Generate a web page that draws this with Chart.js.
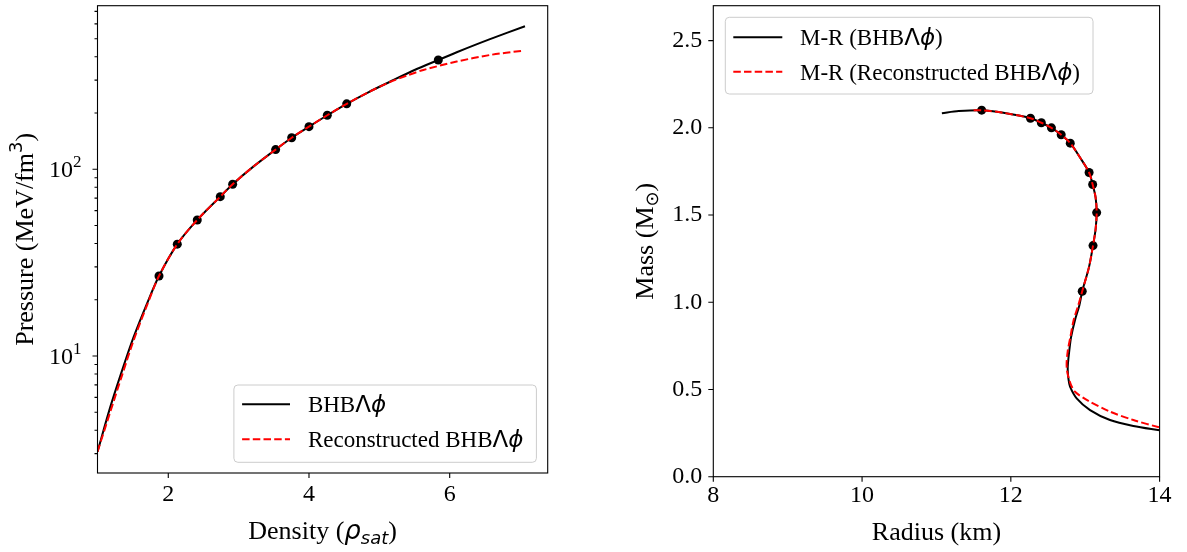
<!DOCTYPE html>
<html>
<head>
<meta charset="utf-8">
<script src="https://cdn.jsdelivr.net/npm/chart.js@4.4.0/dist/chart.umd.min.js"></script>
<style>
  html, body { margin: 0; padding: 0; background: #fff; }
  #wrap { position: relative; width: 1187px; height: 552px; }
  #eos { position: absolute; left: 0; top: 0; }
  #mr { position: absolute; left: 600px; top: 0; }
</style>
</head>
<body>
<div id="wrap">
  <canvas id="eos" width="580" height="552"></canvas>
  <canvas id="mr" width="587" height="552"></canvas>
</div>
<script>
// left panel: equation of state
const eosDensity  = [0.994, 1.172, 1.338, 1.503, 1.693, 1.868, 2.128, 2.412, 2.739, 2.915, 3.20, 3.526, 3.754, 4.00, 4.26, 4.536, 4.85, 5.15, 5.50, 5.838, 6.10, 6.573, 7.07];
const eosPressure = [3.07, 5.27, 8.24, 12.49, 18.9, 26.8, 39.7, 53.5, 71.3, 83.1, 102.6, 127.4, 147.5, 169, 194.5, 224, 259, 294, 340, 384.6, 423, 497, 583];
const recDensity  = [0.994, 1.172, 1.338, 1.503, 1.693, 1.868, 2.128, 2.412, 2.739, 2.915, 3.20, 3.526, 3.754, 4.00, 4.26, 4.536, 4.85, 5.15, 5.40, 5.625, 6.10, 6.573, 7.032];
const recPressure = [3.07, 4.97, 7.78, 12.0, 18.5, 26.8, 39.7, 53.5, 71.3, 83.1, 102.6, 127.4, 147.5, 169, 194.5, 224, 259, 293, 318, 340, 377, 409, 431];
const dotDensity  = [1.868, 2.128, 2.412, 2.739, 2.915, 3.526, 3.754, 4.00, 4.26, 4.536, 5.838];
const dotPressure = [26.8, 39.7, 53.5, 71.3, 83.1, 127.4, 147.5, 169, 194.5, 224, 384.6];
const densityTicks  = [2, 4, 6];
const pressureTicks = [10, 100];
const pressureLabels = ['1', '2'];   // exponents of 10

// right panel: mass-radius
const mrRadius = [11.073, 11.30, 11.608, 11.90, 12.264, 12.41, 12.546, 12.677, 12.799, 12.93, 13.052, 13.10, 13.14, 13.154, 13.14, 13.105, 13.05, 12.96, 12.92, 12.863, 12.81, 12.787, 12.768, 12.765, 12.775, 12.796, 12.885, 13.065, 13.333, 13.647, 14.0];
const mrMass   = [2.084, 2.096, 2.101, 2.086, 2.055, 2.029, 2.000, 1.960, 1.912, 1.830, 1.744, 1.675, 1.600, 1.514, 1.420, 1.325, 1.200, 1.063, 0.980, 0.899, 0.800, 0.727, 0.650, 0.612, 0.560, 0.516, 0.449, 0.382, 0.325, 0.291, 0.266];
const recRadius = [11.50, 11.608, 11.90, 12.264, 12.41, 12.546, 12.677, 12.799, 12.93, 13.052, 13.10, 13.14, 13.154, 13.14, 13.105, 13.05, 12.96, 12.905, 12.845, 12.80, 12.765, 12.75, 12.755, 12.773, 12.81, 12.863, 13.02, 13.333, 13.647, 14.0];
const recMass   = [2.100, 2.101, 2.086, 2.055, 2.029, 2.000, 1.960, 1.912, 1.830, 1.744, 1.675, 1.600, 1.514, 1.420, 1.325, 1.200, 1.063, 0.980, 0.899, 0.800, 0.720, 0.650, 0.610, 0.573, 0.525, 0.487, 0.440, 0.373, 0.325, 0.282];
const dotRadius = [11.608, 12.264, 12.41, 12.546, 12.677, 12.799, 13.052, 13.10, 13.154, 13.105, 12.96];
const dotMass   = [2.101, 2.055, 2.029, 2.000, 1.960, 1.912, 1.744, 1.675, 1.514, 1.325, 1.063];
const radiusTicks = [8, 10, 12, 14];
const massTicks   = [0, 0.5, 1.0, 1.5, 2.0, 2.5];

const SERIF = '"Liberation Serif", "Times New Roman", serif';
const SANS = '"DejaVu Sans", sans-serif';
const DASH = [7.5, 3.2];

const toXY = (xs, ys) => xs.map((x, i) => ({ x: x, y: ys[i] }));

// draw a row of text pieces with different fonts
function richText(ctx, segs, x, y, align) {
  let w = 0;
  segs.forEach(s => { ctx.font = s.f; w += ctx.measureText(s.t).width; });
  let cx = align === 'center' ? x - w / 2 : x;
  ctx.textBaseline = 'alphabetic';
  ctx.textAlign = 'left';
  segs.forEach(s => {
    ctx.font = s.f;
    ctx.fillText(s.t, cx, y + (s.dy || 0));
    cx += ctx.measureText(s.t).width;
  });
}

function roundRect(ctx, x0, y0, x1, y1, r) {
  ctx.beginPath();
  ctx.moveTo(x0 + r, y0);
  ctx.arcTo(x1, y0, x1, y1, r);
  ctx.arcTo(x1, y1, x0, y1, r);
  ctx.arcTo(x0, y1, x0, y0, r);
  ctx.arcTo(x0, y0, x1, y0, r);
  ctx.closePath();
}

// frame, ticks, axis titles and legend in matplotlib style
function makeDeco(cfg) {
  return {
    id: 'deco',
    afterDraw(chart) {
      const ctx = chart.ctx;
      const a = chart.chartArea;
      const xs = chart.scales.x, ys = chart.scales.y;
      ctx.save();
      ctx.fillStyle = '#000';
      ctx.strokeStyle = '#000';
      ctx.lineWidth = 1.1;
      ctx.setLineDash([]);
      ctx.strokeRect(a.left, a.top, a.right - a.left, a.bottom - a.top);

      ctx.beginPath();
      xs.ticks.forEach(t => {
        const p = xs.getPixelForValue(t.value);
        ctx.moveTo(p, a.bottom); ctx.lineTo(p, a.bottom + 5);
      });
      ys.ticks.forEach(t => {
        const p = ys.getPixelForValue(t.value);
        ctx.moveTo(a.left - 5, p); ctx.lineTo(a.left, p);
      });
      (cfg.minorY || []).forEach(v => {
        const p = ys.getPixelForValue(v);
        if (p >= a.top && p <= a.bottom) { ctx.moveTo(a.left - 3, p); ctx.lineTo(a.left, p); }
      });
      ctx.stroke();

      // power-of-ten labels
      (cfg.supLabels || []).forEach(l => {
        const p = ys.getPixelForValue(l.value);
        ctx.font = '24px ' + SERIF;
        const wb = ctx.measureText('10').width;
        ctx.font = '17px ' + SERIF;
        const we = ctx.measureText(l.exp).width;
        richText(ctx, [
          { t: '10', f: '24px ' + SERIF },
          { t: l.exp, f: '17px ' + SERIF, dy: -10 }
        ], a.left - 16 - wb - we, p + 8, 'left');
      });

      // axis titles
      richText(ctx, cfg.xTitle, (a.left + a.right) / 2, cfg.xTitleY, 'center');
      ctx.save();
      ctx.translate(cfg.yTitleX, (a.top + a.bottom) / 2);
      ctx.rotate(-Math.PI / 2);
      richText(ctx, cfg.yTitle, 0, 0, 'center');
      ctx.restore();

      // legend
      const L = cfg.legend;
      roundRect(ctx, L.box[0], L.box[1], L.box[2], L.box[3], 4);
      ctx.fillStyle = 'rgba(255,255,255,0.8)';
      ctx.fill();
      ctx.strokeStyle = '#cccccc';
      ctx.lineWidth = 1;
      ctx.stroke();
      L.rows.forEach(r => {
        ctx.beginPath();
        ctx.strokeStyle = r.color;
        ctx.lineWidth = 2;
        ctx.setLineDash(r.dash || []);
        ctx.moveTo(L.sx[0], r.y); ctx.lineTo(L.sx[1], r.y);
        ctx.stroke();
        ctx.setLineDash([]);
        ctx.fillStyle = '#000';
        richText(ctx, r.segs, L.tx, r.y + 8, 'left');
      });
      ctx.restore();
    }
  };
}

const tickFont = { family: SERIF, size: 24 };
const LEG = '23px ' + SERIF;
const nameSegs = (pre, post) => [
  { t: pre + 'BHB', f: LEG },
  { t: 'Λ', f: '23px ' + SANS },
  { t: 'ϕ', f: 'italic 23px ' + SANS },
  { t: post, f: LEG }
];

// minor ticks of the log axis
const minorPressure = [];
[1, 10, 100].forEach(d => { for (let k = 2; k <= 9; k++) minorPressure.push(k * d); });

const lineSet = (label, data, color, dash, order) => ({
  label: label, data: data, showLine: true, borderColor: color, borderWidth: 2,
  borderDash: dash, pointRadius: 0, tension: 0.3, fill: false, order: order
});
const dotSet = (data) => ({
  label: 'points', data: data, showLine: false, pointRadius: 4.5,
  pointBackgroundColor: '#000', pointBorderWidth: 0, order: 2
});

// keep the plot box where it is, whatever the tick labels need
const noPad = s => { s.paddingTop = 0; s.paddingBottom = 0; s.paddingLeft = 0; s.paddingRight = 0; };

const common = {
  responsive: false,
  animation: false,
  events: [],
  plugins: { legend: { display: false }, tooltip: { enabled: false } }
};

new Chart(document.getElementById('eos').getContext('2d'), {
  type: 'scatter',
  data: {
    datasets: [
      lineSet('Reconstructed BHBΛϕ', toXY(recDensity, recPressure), '#ff0000', DASH, 0),
      lineSet('BHBΛϕ', toXY(eosDensity, eosPressure), '#000000', [], 1),
      dotSet(toXY(dotDensity, dotPressure))
    ]
  },
  options: Object.assign({}, common, {
    layout: { padding: { left: 0, right: 32.3, top: 5.7, bottom: 0 } },
    scales: {
      x: {
        type: 'linear', min: 0.994, max: 7.393,
        afterBuildTicks: s => { s.ticks = densityTicks.map(v => ({ value: v })); },
        afterFit: s => { s.height = 79; noPad(s); },
        grid: { display: false, drawTicks: false }, border: { display: false },
        ticks: { font: tickFont, color: '#000', padding: 7, maxRotation: 0 }
      },
      y: {
        type: 'logarithmic', min: 2.362, max: 751,
        afterBuildTicks: s => { s.ticks = pressureTicks.map(v => ({ value: v })); },
        afterFit: s => { s.width = 97.5; noPad(s); },
        grid: { display: false, drawTicks: false }, border: { display: false },
        ticks: { display: false }
      }
    }
  }),
  plugins: [makeDeco({
    minorY: minorPressure,
    supLabels: pressureTicks.map((v, i) => ({ value: v, exp: pressureLabels[i] })),
    xTitle: [
      { t: 'Density (', f: '26px ' + SERIF },
      { t: 'ρ', f: 'italic 26px ' + SANS },
      { t: 'sat', f: 'italic 18px ' + SANS, dy: 5 },
      { t: ')', f: '26px ' + SERIF }
    ],
    xTitleY: 539,
    yTitle: [
      { t: 'Pressure (MeV/fm', f: '26px ' + SERIF },
      { t: '3', f: '18px ' + SANS, dy: -11 },
      { t: ')', f: '26px ' + SERIF }
    ],
    yTitleX: 33,
    legend: {
      box: [233.9, 385, 536.4, 462.3], sx: [242.1, 290], tx: 307.9,
      rows: [
        { y: 404.3, color: '#000', segs: nameSegs('', '') },
        { y: 439.3, color: '#ff0000', dash: DASH, segs: nameSegs('Reconstructed ', '') }
      ]
    }
  })]
});

new Chart(document.getElementById('mr').getContext('2d'), {
  type: 'scatter',
  data: {
    datasets: [
      lineSet('M-R (Reconstructed BHBΛϕ)', toXY(recRadius, recMass), '#ff0000', DASH, 0),
      lineSet('M-R (BHBΛϕ)', toXY(mrRadius, mrMass), '#000000', [], 1),
      dotSet(toXY(dotRadius, dotMass))
    ]
  },
  options: Object.assign({}, common, {
    layout: { padding: { left: 0, right: 27.4, top: 5.7, bottom: 0 } },
    scales: {
      x: {
        type: 'linear', min: 8, max: 14,
        afterBuildTicks: s => { s.ticks = radiusTicks.map(v => ({ value: v })); },
        afterFit: s => { s.height = 75.3; noPad(s); },
        grid: { display: false, drawTicks: false }, border: { display: false },
        ticks: { font: tickFont, color: '#000', padding: 5, maxRotation: 0 }
      },
      y: {
        type: 'linear', min: 0, max: 2.7,
        afterBuildTicks: s => { s.ticks = massTicks.map(v => ({ value: v })); },
        afterFit: s => { s.width = 113.3; noPad(s); },
        grid: { display: false, drawTicks: false }, border: { display: false },
        ticks: { font: tickFont, color: '#000', padding: 11, callback: v => v.toFixed(1) }
      }
    }
  }),
  plugins: [makeDeco({
    xTitle: [{ t: 'Radius (km)', f: '26px ' + SERIF }],
    xTitleY: 540,
    yTitle: [
      { t: 'Mass (M', f: '26px ' + SERIF },
      { t: '⊙', f: '18px ' + SANS, dy: 5 },
      { t: ')', f: '26px ' + SERIF }
    ],
    yTitleX: 53,
    legend: {
      box: [125.3, 17.3, 493, 94], sx: [133.3, 182.3], tx: 200,
      rows: [
        { y: 37.3, color: '#000', segs: nameSegs('M-R (', ')') },
        { y: 71.7, color: '#ff0000', dash: DASH, segs: nameSegs('M-R (Reconstructed ', ')') }
      ]
    }
  })]
});
</script>
</body>
</html>
